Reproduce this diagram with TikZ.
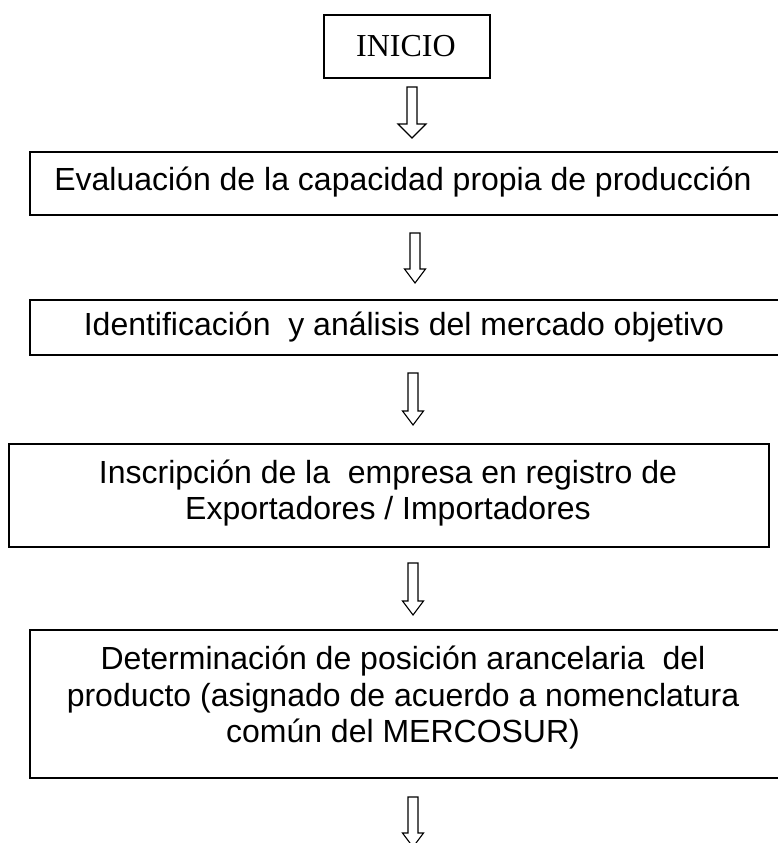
\documentclass[tikz,border=0pt]{standalone}
\usepackage{fontspec}
\setmainfont{Liberation Sans}
\newfontfamily\timesfont{Liberation Serif}
\tikzset{
  box/.style={draw, line width=1.8pt, inner sep=0pt, anchor=north west},
  txt/.style={inner sep=0pt, align=center, font=\fontsize{32}{36.5}\selectfont},
  arrowline/.style={draw, line width=1.1pt, fill=white, line join=miter},
  pics/blockarrow/.style n args={2}{code={
    \path[arrowline] (-5,0) -- (-5,#1-14) -- (-#2,#1-14) -- (0,#1) -- (#2,#1-14) -- (5,#1-14) -- (5,0) -- cycle;}}
}
\begin{document}
\begin{tikzpicture}[x=1pt,y=-1pt]
\useasboundingbox (0,0) rectangle (777,843);
% boxes
\node[box, minimum width=166pt, minimum height=63pt] (b1) at (323,14) {};
\node[txt, font=\timesfont\fontsize{32}{36}\selectfont] (t1) at (406,46) {INICIO};
\node[box, minimum width=761pt, minimum height=63pt] (b2) at (29,151) {};
\node[txt] (t2) at (403,182.5) {Evaluación de la capacidad propia de producción};
\node[box, minimum width=761pt, minimum height=55pt] (b3) at (29,299) {};
\node[txt] (t3) at (404,327) {Identificación\ \ y análisis del mercado objetivo};
\node[box, minimum width=760pt, minimum height=103pt] (b4) at (8,443) {};
\node[txt] (t4) at (388,493) {Inscripción de la\ \ empresa en registro de\\Exportadores / Importadores};
\node[box, minimum width=761pt, minimum height=148pt] (b5) at (29,629) {};
\node[txt] (t5) at (403,698) {Determinación de posición arancelaria\ \ del\\producto (asignado de acuerdo a nomenclatura\\común del MERCOSUR)};
% block arrows
\pic at (412,87) {blockarrow={51}{14}};
\pic at (415,233) {blockarrow={50}{10.5}};
\pic at (413,373) {blockarrow={52}{10.5}};
\pic at (413,563) {blockarrow={52}{10.5}};
\pic at (413,797) {blockarrow={50}{10.5}};
\end{tikzpicture}
\end{document}
